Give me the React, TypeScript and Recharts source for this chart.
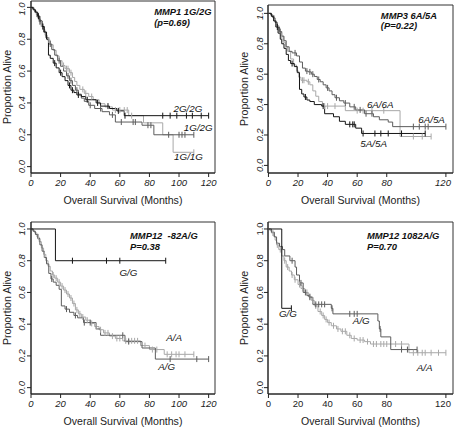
import React from "react"
import { Label, Line, LineChart, ReferenceArea, ReferenceDot, XAxis, YAxis } from "recharts"

// Kaplan-Meier step points [months, proportion alive] and censor times per genotype
const mmp1_2g2g = [[0, 1], [1.5, 0.985], [3, 0.97], [4.5, 0.945], [6, 0.915], [7.5, 0.88], [9, 0.845], [10.5, 0.8], [11.8, 0.7], [13, 0.68], [15, 0.65], [17, 0.62], [19, 0.59], [21, 0.565], [23, 0.54], [25, 0.51], [27, 0.48], [29, 0.465], [31, 0.45], [34, 0.44], [37, 0.42], [44, 0.4], [47, 0.38], [53, 0.365], [58, 0.35], [63, 0.32]]
const mmp1_2g2g_cens = [5, 8, 16, 20, 26, 28, 32, 38, 45, 52, 59, 63.5, 89, 94, 98.5, 105, 109, 115, 120]
const mmp1_1g2g = [[0, 1], [1, 0.99], [2.5, 0.97], [4, 0.94], [5.5, 0.91], [7, 0.88], [8.5, 0.845], [10, 0.81], [12, 0.77], [14, 0.735], [16, 0.7], [18, 0.665], [20, 0.63], [22, 0.6], [24, 0.57], [26, 0.54], [28, 0.51], [30, 0.48], [32, 0.455], [34, 0.43], [36, 0.41], [39, 0.385], [43, 0.365], [48, 0.345], [53, 0.325], [57, 0.28], [75, 0.26], [83, 0.2]]
const mmp1_1g2g_cens = [6, 13, 19, 25, 27, 31, 40, 47, 55, 61, 69, 70.5, 79, 81, 93, 100, 102, 104, 110]
const mmp1_1g1g = [[0, 1], [2, 0.98], [3.5, 0.955], [5, 0.925], [6.5, 0.895], [8, 0.86], [9.5, 0.825], [11, 0.795], [13, 0.765], [15, 0.73], [17, 0.695], [19, 0.665], [21, 0.635], [23, 0.615], [26, 0.59], [28, 0.56], [29.5, 0.535], [31, 0.51], [33, 0.485], [36, 0.46], [39, 0.44], [42, 0.42], [46, 0.395], [50, 0.375], [55, 0.355], [66, 0.32], [76, 0.275], [89, 0.2], [96, 0.09]]
const mmp1_1g1g_cens = [7, 12, 22, 24, 25, 27, 35, 37, 41, 57, 60, 63, 65, 68, 110]

const mmp3_5a5a = [[0, 1], [2, 0.98], [3.5, 0.95], [5, 0.91], [6.5, 0.87], [8, 0.83], [9, 0.8], [10.5, 0.77], [12, 0.73], [13.5, 0.69], [15, 0.67], [17.5, 0.65], [19.5, 0.61], [21, 0.5], [22.5, 0.47], [24, 0.45], [26, 0.43], [28, 0.42], [31, 0.4], [36, 0.39], [38, 0.34], [44, 0.32], [48, 0.29], [52, 0.27], [59, 0.245], [63, 0.21]]
const mmp3_5a5a_cens = [6, 16, 25, 37, 55, 57, 58, 64, 72, 76, 81, 90, 106]
const mmp3_6a5a = [[0, 1], [1.5, 0.99], [3, 0.97], [4.5, 0.94], [6, 0.91], [7.5, 0.88], [9, 0.85], [10.5, 0.82], [12, 0.78], [14, 0.75], [16, 0.74], [19, 0.72], [21, 0.68], [23, 0.64], [25, 0.62], [27, 0.615], [29, 0.6], [31, 0.585], [33, 0.565], [35, 0.55], [37, 0.53], [39, 0.51], [41, 0.49], [43, 0.465], [45, 0.445], [48, 0.425], [51, 0.41], [55, 0.385], [59, 0.365], [65, 0.34], [71, 0.32], [75, 0.3], [81, 0.285], [84, 0.255]]
const mmp3_6a5a_cens = [8, 18, 26, 28, 30, 34, 40, 46, 52, 58, 62, 66, 70, 98, 102, 106, 108, 120]
const mmp3_6a6a = [[0, 1], [2, 0.985], [4, 0.95], [5.5, 0.92], [7, 0.88], [8.5, 0.85], [10, 0.81], [11.5, 0.78], [13, 0.75], [15, 0.7], [17, 0.66], [19, 0.62], [20.5, 0.58], [22, 0.56], [26, 0.55], [28, 0.53], [30, 0.49], [32, 0.455], [34, 0.42], [36.5, 0.39], [52, 0.36], [89, 0.19]]
const mmp3_6a6a_cens = [9, 23, 24, 27, 38, 40, 45, 60, 64, 70, 78, 98, 104, 110]

const mmp12a_gg = [[0, 1], [16.5, 0.8]]
const mmp12a_gg_cens = [28, 51, 60, 91]
const mmp12a_ag = [[0, 1], [1.5, 0.985], [3, 0.965], [4.5, 0.94], [6, 0.9], [7.5, 0.86], [9, 0.82], [10.5, 0.78], [12, 0.72], [13.5, 0.685], [15, 0.665], [17, 0.645], [19, 0.62], [20.5, 0.515], [23, 0.495], [26, 0.475], [29, 0.455], [31.5, 0.44], [35.5, 0.41], [44, 0.37], [47, 0.33], [63.5, 0.29], [75, 0.25], [84, 0.18]]
const mmp12a_ag_cens = [14, 24, 30, 36, 40, 62, 66, 94, 112, 120]
const mmp12a_aa = [[0, 1], [1, 0.99], [2.5, 0.975], [4, 0.95], [5.5, 0.92], [7, 0.88], [8.5, 0.84], [10, 0.8], [11.5, 0.765], [13, 0.735], [14.5, 0.71], [16, 0.69], [18, 0.665], [20, 0.64], [22, 0.615], [24, 0.59], [26, 0.565], [28, 0.53], [30, 0.49], [32, 0.465], [34, 0.445], [37, 0.425], [40, 0.405], [43, 0.385], [46, 0.365], [49, 0.345], [53, 0.325], [57, 0.31], [62, 0.295], [74, 0.265], [80, 0.24], [90, 0.21]]
const mmp12a_aa_cens = [5, 9, 15, 17, 19, 21, 23, 25, 27, 29, 31, 33, 35, 38, 41, 44, 47, 50, 52, 55, 58, 60, 64, 66, 68, 70, 72, 77, 82, 85, 92, 95, 98, 100, 104, 110]

const mmp12b_gg = [[0, 1], [9, 0.5]]
const mmp12b_gg_cens = [15.5]
const mmp12b_ag = [[0, 1], [2, 0.98], [4, 0.95], [5.5, 0.91], [7.5, 0.89], [9.5, 0.87], [11, 0.83], [14.5, 0.8], [18, 0.76], [19, 0.71], [21, 0.66], [23.5, 0.6], [26, 0.58], [27.5, 0.57], [30, 0.525], [42.5, 0.5], [43.6, 0.465], [74, 0.42], [75, 0.37], [76, 0.32], [82.7, 0.24]]
const mmp12b_ag_cens = [16, 22, 25, 28, 32, 34, 36, 38, 43, 55, 58, 60, 75.5, 90, 94, 100.5]
const mmp12b_aa = [[0, 1], [1, 0.99], [2, 0.975], [3.5, 0.955], [4.5, 0.93], [5.5, 0.9], [7, 0.87], [9, 0.83], [10.5, 0.8], [12, 0.76], [14, 0.735], [15.6, 0.71], [17.5, 0.68], [20, 0.65], [22, 0.625], [24.6, 0.6], [27, 0.575], [29, 0.55], [31, 0.515], [33.5, 0.48], [36, 0.455], [38, 0.43], [40, 0.41], [42.5, 0.39], [46, 0.37], [49, 0.355], [53, 0.33], [56, 0.31], [60, 0.3], [65, 0.29], [69, 0.275], [95, 0.22]]
const mmp12b_aa_cens = [3, 6, 8, 11, 13, 16, 18, 21, 23, 26, 28, 30, 32, 35, 37, 39, 41, 44, 47, 50, 52, 55, 58, 62, 64, 67, 71, 73, 76, 78, 80, 86, 90, 98, 101, 104, 106, 110, 115, 120]

const xTicks = [0, 20, 40, 60, 80, 100, 120]
const yTicks = [0, 0.2, 0.4, 0.6, 0.8, 1.0]

const BLACK = "#151515"
const DARK = "#5c5c5c"
const LIGHT = "#a8a8a8"
const FONT = "'Liberation Sans', Arial, sans-serif"

type Pt = { t: number; s: number; c?: boolean }

function km(events: number[][], censors: number[]): Pt[] {
  const pts: Pt[] = events.map(([t, s]) => ({ t, s }))
  censors.forEach((t) => {
    let s = 1
    events.forEach(([et, es]) => {
      if (et <= t) s = es
    })
    pts.push({ t, s, c: true })
  })
  return pts.sort((a, b) => a.t - b.t)
}

function censorMark(color: string) {
  return (p: any) =>
    p.payload && p.payload.c ? (
      <line key={`c-${p.index}`} x1={p.cx} x2={p.cx} y1={p.cy - 3} y2={p.cy + 3} stroke={color} strokeWidth={1} />
    ) : (
      <g key={`n-${p.index}`} />
    )
}

type Series = { data: Pt[]; color: string }
type Note = { x: number; y: number; text: string; anchor?: string; bold?: boolean }

type PanelProps = {
  left: number
  top: number
  width: number
  height: number
  marginTop: number
  marginRight: number
  yAxisW: number
  xAxisH: number
  xDomain: number[]
  yDomain: number[]
  italic: boolean
  yTickDx: number
  series: Series[]
  notes: Note[]
}

function Panel(props: PanelProps) {
  const fs = props.italic ? "italic" : "normal"
  const xTick = (p: any) => (
    <text x={p.x} y={p.y + 7} textAnchor="middle" fontSize={9.5} fontStyle={fs} fill="#222" fontFamily={FONT}>
      {p.payload.value}
    </text>
  )
  const yTick = (p: any) => (
    <text
      x={p.x + props.yTickDx}
      y={p.y}
      transform={`rotate(-90 ${p.x + props.yTickDx} ${p.y})`}
      textAnchor="middle"
      fontSize={9.5}
      fontStyle={fs}
      fill="#222"
      fontFamily={FONT}
    >
      {p.payload.value.toFixed(1)}
    </text>
  )
  return (
    <div style={{ position: "absolute", left: props.left, top: props.top }}>
      <LineChart
        width={props.width}
        height={props.height}
        margin={{ top: props.marginTop, right: props.marginRight, bottom: 0, left: 0 }}
      >
        <XAxis
          dataKey="t"
          type="number"
          domain={props.xDomain}
          ticks={xTicks}
          allowDataOverflow
          height={props.xAxisH}
          tickSize={4}
          tickLine={{ stroke: "#222" }}
          axisLine={{ stroke: "#222" }}
          tick={xTick}
        >
          <Label
            content={(p: any) => (
              <text
                x={p.viewBox.x + p.viewBox.width / 2}
                y={p.viewBox.y + 31}
                textAnchor="middle"
                fontSize={10.6}
                fill="#222"
                fontFamily={FONT}
              >
                Overall Survival (Months)
              </text>
            )}
          />
        </XAxis>
        <YAxis
          type="number"
          domain={props.yDomain}
          ticks={yTicks}
          allowDataOverflow
          width={props.yAxisW}
          tickSize={4}
          tickLine={{ stroke: "#222" }}
          axisLine={{ stroke: "#222" }}
          tick={yTick}
        >
          <Label
            content={(p: any) => {
              const x = p.viewBox.x + p.viewBox.width - 20
              const y = p.viewBox.y + p.viewBox.height / 2
              return (
                <text x={x} y={y} transform={`rotate(-90 ${x} ${y})`} textAnchor="middle" fontSize={10.6} fill="#222" fontFamily={FONT}>
                  Proportion Alive
                </text>
              )
            }}
          />
        </YAxis>
        <ReferenceArea
          x1={props.xDomain[0]}
          x2={props.xDomain[1]}
          y1={props.yDomain[0]}
          y2={props.yDomain[1]}
          fill="none"
          stroke="#333"
          strokeWidth={1}
          ifOverflow="visible"
        />
        {props.series.map((s, i) => (
          <Line
            key={i}
            data={s.data}
            dataKey="s"
            type="stepAfter"
            stroke={s.color}
            strokeWidth={1}
            dot={censorMark(s.color)}
            activeDot={false}
            isAnimationActive={false}
          />
        ))}
        {props.notes.map((n, i) => (
          <ReferenceDot
            key={`note-${i}`}
            x={n.x}
            y={n.y}
            r={0}
            ifOverflow="visible"
            shape={(p: any) => (
              <text
                x={p.cx}
                y={p.cy + 3.5}
                textAnchor={n.anchor || "middle"}
                fontSize={n.bold ? 9.4 : 9.8}
                fontWeight={n.bold ? "bold" : "normal"}
                fontStyle="italic"
                fill="#111"
                fontFamily={FONT}
                style={{ whiteSpace: "pre" }}
              >
                {n.text}
              </text>
            )}
          />
        ))}
      </LineChart>
    </div>
  )
}

export default function App() {
  const leftX = [0, 124.3]
  const rightX = [-0.3, 124.8]
  return (
    <div style={{ position: "absolute", left: 0, top: 0, width: 455, height: 427, background: "#fff", overflow: "hidden" }}>
      <Panel
        left={0}
        top={0}
        width={228}
        height={213}
        marginTop={1}
        marginRight={13}
        yAxisW={31}
        xAxisH={40}
        xDomain={leftX}
        yDomain={[-0.04, 1.04]}
        italic
        yTickDx={0}
        series={[
          { data: km(mmp1_1g1g, mmp1_1g1g_cens), color: LIGHT },
          { data: km(mmp1_1g2g, mmp1_1g2g_cens), color: DARK },
          { data: km(mmp1_2g2g, mmp1_2g2g_cens), color: BLACK },
        ]}
        notes={[
          { x: 83.2, y: 0.975, text: "MMP1 1G/2G", anchor: "start", bold: true },
          { x: 83.2, y: 0.906, text: "(p=0.69)", anchor: "start", bold: true },
          { x: 106, y: 0.365, text: "2G/2G" },
          { x: 113, y: 0.243, text: "1G/2G" },
          { x: 106.4, y: 0.061, text: "1G/1G" },
        ]}
      />
      <Panel
        left={228}
        top={0}
        width={227}
        height={213}
        marginTop={5}
        marginRight={2}
        yAxisW={40}
        xAxisH={40}
        xDomain={rightX}
        yDomain={[-0.05, 1.055]}
        italic
        yTickDx={1}
        series={[
          { data: km(mmp3_6a6a, mmp3_6a6a_cens), color: LIGHT },
          { data: km(mmp3_6a5a, mmp3_6a5a_cens), color: DARK },
          { data: km(mmp3_5a5a, mmp3_5a5a_cens), color: BLACK },
        ]}
        notes={[
          { x: 76, y: 0.989, text: "MMP3 6A/5A", anchor: "start", bold: true },
          { x: 76, y: 0.923, text: "(P=0.22)", anchor: "start", bold: true },
          { x: 75.6, y: 0.4, text: "6A/6A" },
          { x: 110.3, y: 0.3, text: "6A/5A" },
          { x: 71.1, y: 0.142, text: "5A/5A" },
        ]}
      />
      <Panel
        left={0}
        top={213}
        width={228}
        height={214}
        marginTop={9}
        marginRight={13}
        yAxisW={31}
        xAxisH={33}
        xDomain={leftX}
        yDomain={[-0.04, 1.044]}
        italic
        yTickDx={0}
        series={[
          { data: km(mmp12a_aa, mmp12a_aa_cens), color: LIGHT },
          { data: km(mmp12a_ag, mmp12a_ag_cens), color: DARK },
          { data: km(mmp12a_gg, mmp12a_gg_cens), color: BLACK },
        ]}
        notes={[
          { x: 66.9, y: 0.956, text: "MMP12\u00a0 -82A/G", anchor: "start", bold: true },
          { x: 66.9, y: 0.887, text: "P=0.38", anchor: "start", bold: true },
          { x: 65.8, y: 0.723, text: "G/G" },
          { x: 96.7, y: 0.314, text: "A/A" },
          { x: 91.7, y: 0.132, text: "A/G" },
        ]}
      />
      <Panel
        left={228}
        top={213}
        width={227}
        height={214}
        marginTop={9}
        marginRight={2}
        yAxisW={40}
        xAxisH={33}
        xDomain={rightX}
        yDomain={[-0.04, 1.044]}
        italic={false}
        yTickDx={1}
        series={[
          { data: km(mmp12b_aa, mmp12b_aa_cens), color: LIGHT },
          { data: km(mmp12b_ag, mmp12b_ag_cens), color: DARK },
          { data: km(mmp12b_gg, mmp12b_gg_cens), color: BLACK },
        ]}
        notes={[
          { x: 66.6, y: 0.956, text: "MMP12 1082A/G", anchor: "start", bold: true },
          { x: 66.6, y: 0.887, text: "P=0.70", anchor: "start", bold: true },
          { x: 13.2, y: 0.47, text: "G/G" },
          { x: 62.8, y: 0.425, text: "A/G" },
          { x: 105.6, y: 0.13, text: "A/A" },
        ]}
      />
    </div>
  )
}
